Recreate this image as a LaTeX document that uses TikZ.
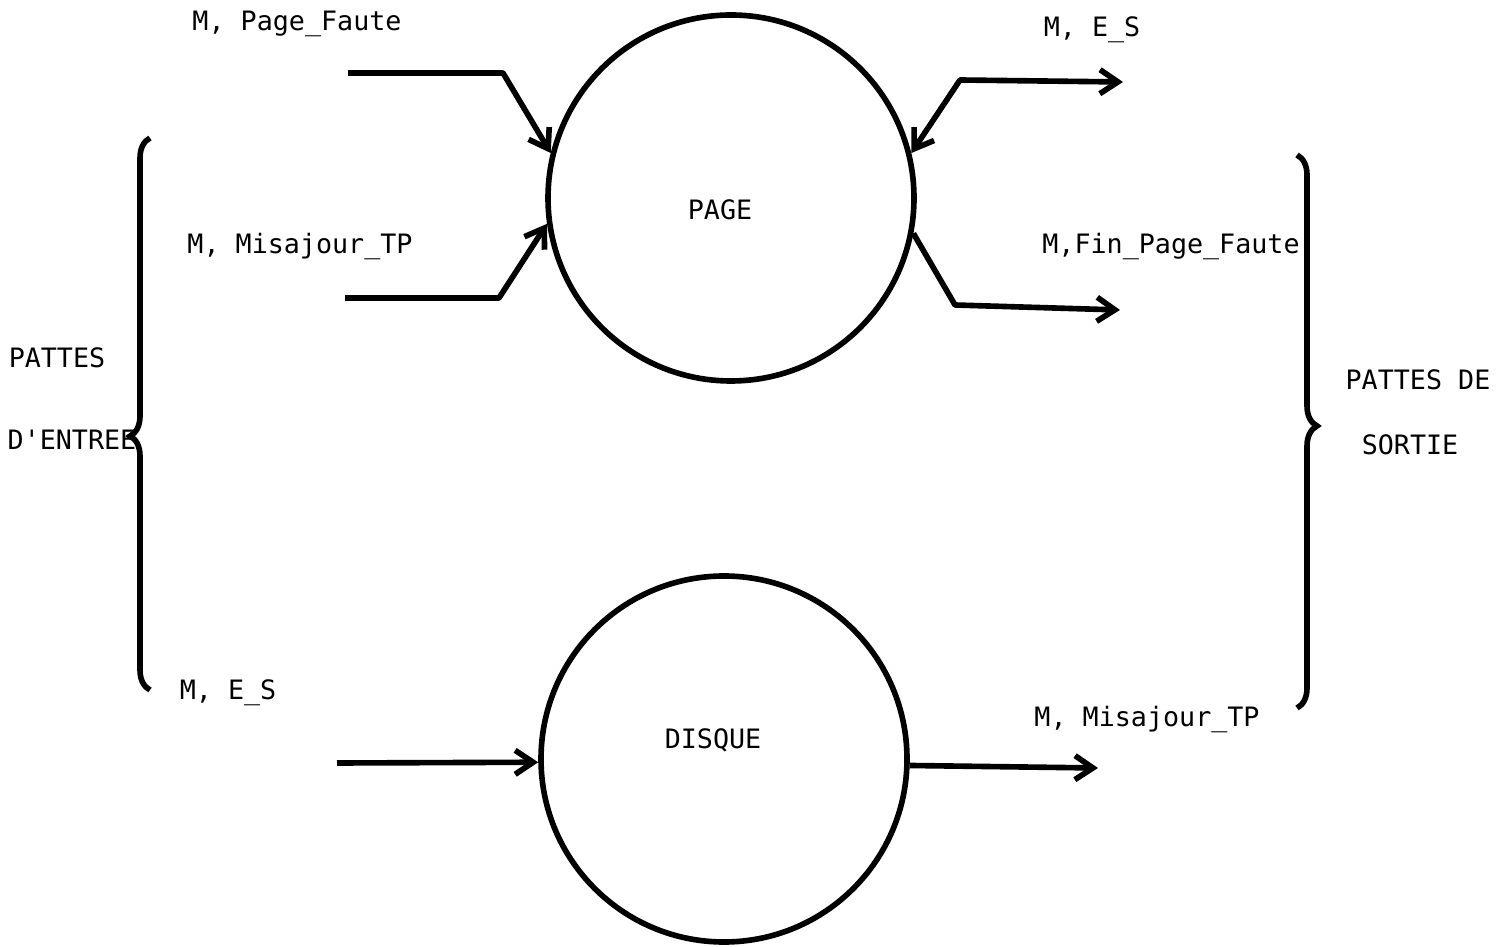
\documentclass[tikz,border=0pt]{standalone}
\usepackage{fontspec}
\setmonofont{DejaVu Sans Mono}
\usetikzlibrary{arrows.meta,decorations.pathreplacing}

\begin{document}
\begin{tikzpicture}[x=0.1mm,y=-0.1mm,
	lbl/.style={inner sep=0pt,font=\ttfamily\fontsize{7.6}{9}\selectfont},
	proc/.style={draw,circle,line width=1.6pt,minimum size=36.6mm,inner sep=0pt},
	fl/.style={line width=1.6pt,line join=round,-{Straight Barb[length=1.8mm,width=2.4mm]}},
	flb/.style={line width=1.6pt,line join=round,{Straight Barb[length=1.8mm,width=2.4mm]}-{Straight Barb[length=1.8mm,width=2.4mm]}},
	brc/.style={line width=1.6pt,decorate}]
		\useasboundingbox (0,0) rectangle (1506,947);
		
		% les deux modules
		\node[proc] (page) at (731,198) {};
		\node[proc] (disque) at (724,759) {};
		\node[lbl] (pagetxt) at (720,210) {PAGE};
		\node[lbl] (disquetxt) at (713,740) {DISQUE};
		
		% pattes d'entree
		\node[lbl] (inpf) at (297,24) {M, Page\_Faute};
		\node[lbl] (inmaj) at (300,247) {M, Misajour\_TP};
		\node[lbl] (ines) at (228,693) {M, E\_S};
		\coordinate (a1) at (348,73);
		\coordinate (a2) at (345,298);
		\coordinate (a3) at (337,763);
		\draw[fl] (a1) -- (503,73) -- (page.166);
		\draw[fl] (a2) -- (499,298) -- (page.188);
		\draw[fl] (a3) -- (disque.181);
		
		% pattes de sortie
		\node[lbl] (outes) at (1092,30) {M, E\_S};
		\node[lbl] (outfin) at (1171,247) {M,Fin\_Page\_Faute};
		\node[lbl] (outmaj) at (1147,720) {M, Misajour\_TP};
		\coordinate (b1) at (1123,82);
		\coordinate (b2) at (1120,310);
		\coordinate (b3) at (1098,768);
		\draw[flb] (page.14) -- (960,80) -- (b1);
		\draw[fl] (page.349) -- (955,305) -- (b2);
		\draw[fl] (disque.-2) -- (b3);
		
		% accolades
		\draw[brc,decoration={brace,amplitude=2mm,aspect=0.46}] (150,690) -- (150,138);
		\draw[brc,decoration={brace,amplitude=2mm,aspect=0.49}] (1297,155) -- (1297,708);
		\node[lbl] (pe1) at (57,358) {PATTES};
		\node[lbl] (pe2) at (72,440) {D'ENTREE};
		\node[lbl] (ps1) at (1418,380) {PATTES DE};
		\node[lbl] (ps2) at (1410,445) {SORTIE};
	\end{tikzpicture}
\end{document}
